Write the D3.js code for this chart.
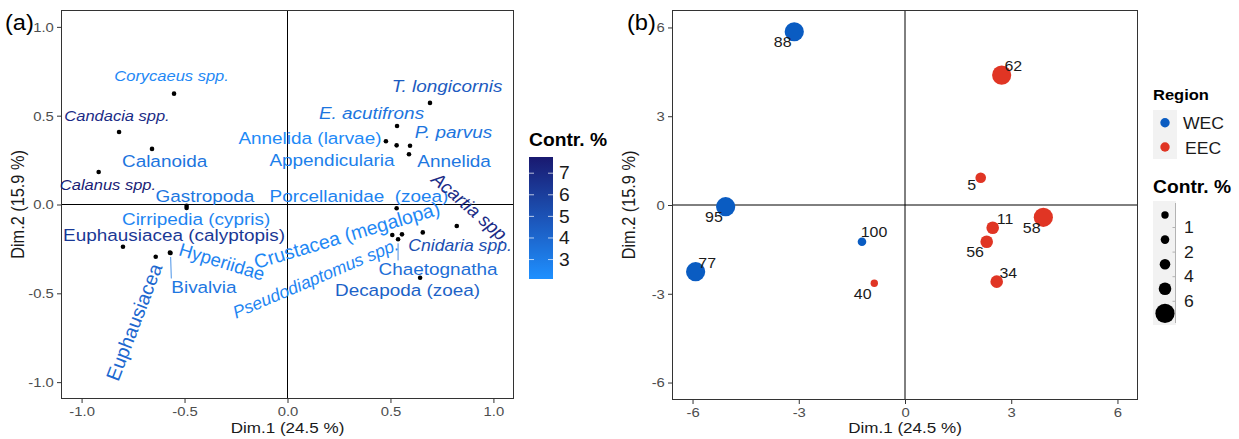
<!DOCTYPE html>
<html>
<head>
<meta charset="utf-8">
<script src="https://cdn.jsdelivr.net/npm/d3@7"></script>
<style>
  body { margin: 0; background: #fff; }
  text { font-family: "Liberation Sans", Arial, sans-serif; }
</style>
</head>
<body>
<svg id="chart" width="1239" height="439"></svg>
<script>
// the original figure is stretched a bit horizontally, text follows that
var SX = 1.1;

// ----------- Panel (a) data : variables -----------
var varNames = ["Corycaeus spp.", "Candacia spp.", "Calanoida", "Calanus spp.", "Gastropoda",
  "Cirripedia (cypris)", "Euphausiacea (calyptopis)", "Hyperiidae", "Bivalvia", "Euphausiacea",
  "T. longicornis", "E. acutifrons", "Annelida (larvae)", "P. parvus", "Appendicularia", "Annelida",
  "Porcellanidae  (zoea)", "Acartia spp.", "Crustacea (megalopa)", "Pseudodiaptomus spp.",
  "Cnidaria spp.", "Chaetognatha", "Decapoda (zoea)"];
var varDim1 = [-0.551, -0.818, -0.658, -0.917, -0.490, -0.49, -0.799, -0.571, -0.568, -0.640,
  0.692, 0.532, 0.478, 0.595, 0.530, 0.590, 0.530, 0.822, 0.509, 0.556, 0.657, 0.537, 0.644];
var varDim2 = [0.624, 0.408, 0.313, 0.183, -0.008, -0.02, -0.238, -0.271, -0.273, -0.294,
  0.572, 0.442, 0.356, 0.331, 0.333, 0.283, -0.021, -0.121, -0.172, -0.168, -0.157, -0.196, -0.412];
var varContrib = [2.5, 6.9, 3.4, 7.6, 3.3, 2.6, 6.3, 2.7, 3.3, 4.0,
  4.6, 3.4, 2.4, 3.4, 2.9, 3.3, 2.7, 6.9, 2.5, 2.6, 5.2, 3.7, 4.3];
// repelled label positions (data units) and visible angle (degrees)
var varLabelDim1 = [-0.563, -0.828, -0.597, -0.872, -0.401, -0.444, -0.551, -0.318, -0.406, -0.745,
  0.775, 0.408, 0.109, 0.806, 0.216, 0.809, 0.347, 0.893, 0.288, 0.136, 0.838, 0.731, 0.583];
var varLabelDim2 = [0.724, 0.498, 0.245, 0.110, 0.048, -0.082, -0.172, -0.322, -0.465, -0.662,
  0.667, 0.515, 0.374, 0.408, 0.251, 0.245, 0.048, -0.02, -0.172, -0.415, -0.228, -0.363, -0.481];
var varLabelAngle = [0, 0, 0, 0, 0, 0, 0, 17, 0, -69,
  0, 0, 0, 0, 0, 0, 0, 41, -16.5, -23, 0, 0, 0];
var contribTicks = [3, 4, 5, 6, 7];
var dimTicksA = [-1, -0.5, 0, 0.5, 1];

// ----------- Panel (b) data : individuals -----------
var indNames = ["88", "95", "77", "100", "40", "62", "5", "11", "58", "56", "34"];
var indRegion = ["WEC", "WEC", "WEC", "WEC", "EEC", "EEC", "EEC", "EEC", "EEC", "EEC", "EEC"];
var indDim1 = [-3.127, -5.065, -5.913, -1.215, -0.867, 2.73, 2.138, 2.477, 3.907, 2.307, 2.59];
var indDim2 = [5.855, -0.057, -2.253, -1.24, -2.645, 4.39, 0.922, -0.767, -0.416, -1.24, -2.59];
var indContrib = [14, 12, 13, 1.5, 0.6, 11, 3, 5, 10, 4.8, 4.5];
var indLabelDim1 = [-3.455, -5.395, -5.585, -0.876, -1.195, 3.059, 1.884, 2.825, 3.579, 1.977, 2.918];
var indLabelDim2 = [5.517, -0.395, -1.970, -0.912, -3.007, 4.696, 0.676, -0.473, -0.767, -1.578, -2.287];
var regions = ["WEC", "EEC"];
var sizeBreaks = [1, 2, 4, 6];
var dimTicksB = [-6, -3, 0, 3, 6];

var svg = d3.select("#chart");

// helper: text stretched like the original picture
function stext(g, x, y, txt, size, angle, sx) {
  var a = angle || 0;
  var s = sx || SX;
  var rot = Math.atan(s * Math.tan(a * Math.PI / 180)) * 180 / Math.PI;
  return g.append("text")
    .attr("transform", "translate(" + x + "," + y + ") scale(" + s + ",1) rotate(" + rot + ")")
    .attr("font-size", size)
    .text(txt);
}

function drawFrame(g, x, y, ticks, fmt) {
  var x0 = x.range()[0], x1 = x.range()[1], y0 = y.range()[0], y1 = y.range()[1];
  // zero lines
  g.append("line").attr("x1", x(0)).attr("x2", x(0)).attr("y1", y1).attr("y2", y0)
    .attr("stroke", "#000").attr("stroke-width", 1);
  g.append("line").attr("x1", x0).attr("x2", x1).attr("y1", y(0)).attr("y2", y(0))
    .attr("stroke", "#000").attr("stroke-width", 1);

  var ax = g.append("g").attr("transform", "translate(0," + y0 + ")")
    .call(d3.axisBottom(x).tickValues(ticks).tickSize(4).tickPadding(3).tickFormat(fmt));
  var ay = g.append("g").attr("transform", "translate(" + x0 + ",0)")
    .call(d3.axisLeft(y).tickValues(ticks).tickSize(4).tickPadding(3).tickFormat(fmt));
  [ax, ay].forEach(function (a) {
    a.select(".domain").remove();
    a.selectAll(".tick line").attr("stroke", "#333");
    a.selectAll(".tick text").attr("fill", "#4d4d4d").attr("font-size", 13.5)
      .attr("font-family", "Liberation Sans, Arial, sans-serif");
  });
  ax.selectAll(".tick text").attr("transform", "scale(" + SX + ",1)");
  ay.selectAll(".tick text").attr("x", -6.5).attr("transform", "scale(" + SX + ",1)");

  g.append("rect").attr("x", x0 + 0.5).attr("y", y1 + 0.5)
    .attr("width", x1 - x0 - 1).attr("height", y0 - y1 - 1)
    .attr("fill", "none").attr("stroke", "#333").attr("stroke-width", 1);

  stext(g, (x0 + x1) / 2, 433, "Dim.1 (24.5 %)", 15.5).attr("text-anchor", "middle").attr("fill", "#1a1a1a");
  stext(g, x0 - 37, (y0 + y1) / 2, "Dim.2 (15.9 %)", 16.3, -90).attr("text-anchor", "middle").attr("fill", "#1a1a1a")
    .attr("transform", "translate(" + (x0 - 37) + "," + ((y0 + y1) / 2) + ") scale(" + SX + ",1) rotate(-90)");
}

function fmtA(d) { return d.toFixed(1); }
function fmtB(d) { return String(d); }

// ----------- Panel (a) -----------
var gA = svg.append("g");
var xA = d3.scaleLinear().domain([-1.1, 1.1]).range([61, 514]);
var yA = d3.scaleLinear().domain([-1.095, 1.095]).range([399, 10]);
var color = d3.scaleLinear().domain([2.1, 7.75]).range(["#1E90FF", "#191970"]);

drawFrame(gA, xA, yA, dimTicksA, fmtA);
stext(gA, 5, 30, "(a)", 21.5).attr("fill", "#000");

var italicNames = ["Corycaeus spp.", "Candacia spp.", "Calanus spp.", "T. longicornis", "E. acutifrons",
  "P. parvus", "Acartia spp.", "Pseudodiaptomus spp.", "Cnidaria spp."];
var labelSizes = { "Corycaeus spp.": 15, "Candacia spp.": 15, "Calanus spp.": 15,
  "Cnidaria spp.": 16, "Acartia spp.": 18.5, "Pseudodiaptomus spp.": 17.5,
  "Crustacea (megalopa)": 19.5, "Euphausiacea": 19.5, "Hyperiidae": 18.5 };
var segmentNames = ["Bivalvia", "Chaetognatha"];

var vars = varNames.map(function (n, i) {
  return { name: n, d1: varDim1[i], d2: varDim2[i], contr: varContrib[i],
    l1: varLabelDim1[i], l2: varLabelDim2[i], ang: varLabelAngle[i] };
});

vars.forEach(function (d) {
  var size = labelSizes[d.name] || 17.2;
  // slanted labels are not widened
  var t = stext(gA, xA(d.l1), yA(d.l2), d.name, size, d.ang, d.ang ? 1 : SX)
    .attr("text-anchor", "middle").attr("dy", "0.35em")
    .attr("fill", color(d.contr))
    .style("white-space", "pre")
    .attr("font-style", italicNames.indexOf(d.name) >= 0 ? "italic" : "normal");
  if (segmentNames.indexOf(d.name) >= 0) {
    var w = t.node().getComputedTextLength() * SX;
    var lx = xA(d.l1), ly = yA(d.l2);
    var px = xA(d.d1), py = yA(d.d2);
    var tx = Math.max(lx - w / 2, Math.min(px, lx + w / 2));
    var ty = ly - 0.5 * size;
    var dx = tx - px, dy = ty - py, len = Math.sqrt(dx * dx + dy * dy);
    gA.append("line")
      .attr("x1", px + dx / len * 4).attr("y1", py + dy / len * 4)
      .attr("x2", tx).attr("y2", ty)
      .attr("stroke", color(d.contr)).attr("stroke-width", 0.8);
  }
});

gA.append("g").selectAll("circle")
  .data(vars)
  .join("circle")
  .attr("cx", function (d) { return xA(d.d1); })
  .attr("cy", function (d) { return yA(d.d2); })
  .attr("r", 2.3)
  .attr("fill", "#000");

// colour bar legend
var legA = svg.append("g");
var barY = d3.scaleLinear().domain(color.domain()).range([279, 157]);
var grad = svg.append("defs").append("linearGradient")
  .attr("id", "contrGrad").attr("x1", 0).attr("x2", 0).attr("y1", 1).attr("y2", 0);
d3.range(0, 1.0001, 0.1).forEach(function (f) {
  var v = color.domain()[0] + f * (color.domain()[1] - color.domain()[0]);
  grad.append("stop").attr("offset", f).attr("stop-color", color(v));
});
stext(legA, 529, 146, "Contr. %", 17.5).attr("font-weight", "bold").attr("fill", "#000");
legA.append("rect").attr("x", 529).attr("y", barY.range()[1])
  .attr("width", 24).attr("height", barY.range()[0] - barY.range()[1])
  .attr("fill", "url(#contrGrad)");
contribTicks.forEach(function (v) {
  legA.append("line").attr("x1", 529).attr("x2", 534).attr("y1", barY(v)).attr("y2", barY(v))
    .attr("stroke", "#fff").attr("stroke-opacity", 0.7);
  legA.append("line").attr("x1", 548).attr("x2", 553).attr("y1", barY(v)).attr("y2", barY(v))
    .attr("stroke", "#fff").attr("stroke-opacity", 0.7);
  stext(legA, 559, barY(v), String(v), 17.5).attr("dy", "0.35em").attr("fill", "#1a1a1a");
});

// ----------- Panel (b) -----------
var gB = svg.append("g");
var xB = d3.scaleLinear().domain([-6.58, 6.58]).range([672, 1138]);
var yB = d3.scaleLinear().domain([-6.59, 6.59]).range([400, 10]);
var regColor = d3.scaleOrdinal().domain(regions).range(["#0a5cc2", "#e03524"]);
var sizeScale = d3.scaleThreshold().domain(sizeBreaks).range([3.7, 4.3, 5.3, 6.3, 9.6]);

drawFrame(gB, xB, yB, dimTicksB, fmtB);
stext(gB, 627, 30, "(b)", 21.5).attr("fill", "#000");

var inds = indNames.map(function (n, i) {
  return { name: n, region: indRegion[i], d1: indDim1[i], d2: indDim2[i], contr: indContrib[i],
    l1: indLabelDim1[i], l2: indLabelDim2[i] };
});

gB.append("g").selectAll("circle")
  .data(inds)
  .join("circle")
  .attr("cx", function (d) { return xB(d.d1); })
  .attr("cy", function (d) { return yB(d.d2); })
  .attr("r", function (d) { return sizeScale(d.contr); })
  .attr("fill", function (d) { return regColor(d.region); });

inds.forEach(function (d) {
  stext(gB, xB(d.l1), yB(d.l2), d.name, 14.5)
    .attr("text-anchor", "middle").attr("dy", "0.35em").attr("fill", "#1a1a1a");
});

// region legend
var legB = svg.append("g");
stext(legB, 1153, 100, "Region", 15).attr("font-weight", "bold").attr("fill", "#000");
legB.append("rect").attr("x", 1153).attr("y", 110).attr("width", 24).attr("height", 49).attr("fill", "#f2f2f2");
regions.forEach(function (r, i) {
  var cy = 122.7 + i * 24.3;
  legB.append("circle").attr("cx", 1165).attr("cy", cy).attr("r", 4.7).attr("fill", regColor(r));
  stext(legB, 1183 + i * 2, cy + 1, r, 16).attr("dy", "0.35em").attr("fill", "#1a1a1a");
});

// size legend (binned)
stext(legB, 1153, 192.5, "Contr. %", 17.5).attr("font-weight", "bold").attr("fill", "#000");
legB.append("rect").attr("x", 1153).attr("y", 201).attr("width", 23).attr("height", 124).attr("fill", "#f2f2f2");
legB.append("line").attr("x1", 1175.5).attr("x2", 1175.5).attr("y1", 203).attr("y2", 323)
  .attr("stroke", "#b3b3b3").attr("stroke-width", 1);
sizeScale.range().forEach(function (r, i) {
  legB.append("circle").attr("cx", 1165).attr("cy", 215 + i * 24.6).attr("r", r).attr("fill", "#000");
});
sizeBreaks.forEach(function (b, i) {
  var y = 227.5 + i * 24.6;
  legB.append("line").attr("x1", 1172.5).attr("x2", 1175.5).attr("y1", y).attr("y2", y)
    .attr("stroke", "#b3b3b3");
  stext(legB, 1184, y, String(b), 16).attr("dy", "0.35em").attr("fill", "#1a1a1a");
});
</script>
</body>
</html>
